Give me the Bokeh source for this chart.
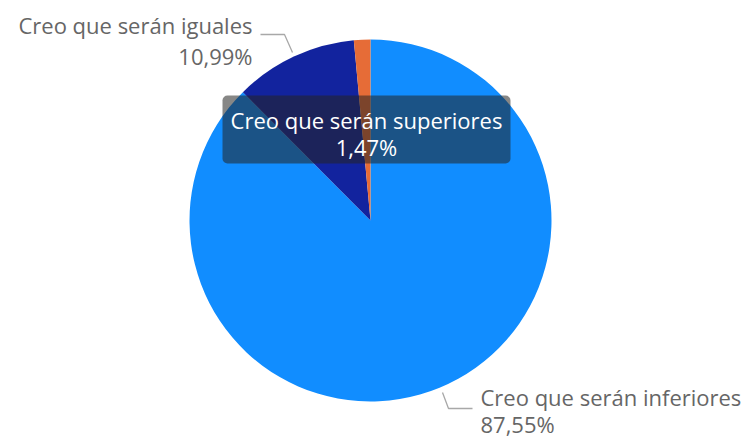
import math
from bokeh.plotting import figure
from bokeh.models import Range1d, BoxAnnotation, ColumnDataSource
from bokeh.core.properties import value
from bokeh.embed import file_html
from bokeh.resources import INLINE

categories = ["Creo que serán inferiores", "Creo que serán iguales", "Creo que serán superiores"]
values = [87.55, 10.99, 1.47]
colors = ["#118DFF", "#12239E", "#E66C37"]

W, H = 744, 439
TEXT_DY = 8  # compensation for baseline rendering
def px(x):
    return x
def py(y):
    return H - y
def ty(y):
    return H - (y - TEXT_DY)

p = figure(width=W, height=H, output_backend="svg", toolbar_location=None,
           x_range=Range1d(0, W), y_range=Range1d(0, H), min_border=0)
p.axis.visible = False
p.grid.visible = False
p.outline_line_color = None
p.background_fill_color = "white"

cx, cy, r = px(370), py(220), 181
total = sum(values)
starts, ends = [], []
c = 0.0
for v in values:
    starts.append(math.pi / 2 - 2 * math.pi * c / total)
    c += v
    ends.append(math.pi / 2 - 2 * math.pi * c / total)

src = ColumnDataSource(dict(start=starts, end=ends, color=colors))
p.wedge(x=cx, y=cy, radius=r, start_angle="start", end_angle="end", direction="clock",
        fill_color="color", line_color=None, source=src)

def fmt(v):
    return f"{v:.2f}".replace(".", ",") + "%"

font = value("Open Sans")
lab_color = "#666666"
fs = "22px"

# leader lines
p.line(x=[px(260), px(284), px(292)], y=[py(34), py(34), py(52)], line_color="#A8A8A8", line_width=1.3)
p.line(x=[px(442), px(448), px(472)], y=[py(392), py(408), py(408)], line_color="#A8A8A8", line_width=1.3)

# labels
p.text(x=[px(252), px(252)], y=[ty(32), ty(63)], text=[categories[1], fmt(values[1])],
       text_align="right", text_baseline="alphabetic", text_font=font,
       text_font_size=fs, text_color=lab_color)
p.text(x=[px(480), px(480)], y=[ty(404), ty(431)], text=[categories[0], fmt(values[0])],
       text_align="left", text_baseline="alphabetic", text_font=font,
       text_font_size=fs, text_color=lab_color)

# tooltip
box = BoxAnnotation(left=px(222), right=px(510), top=py(95), bottom=py(163),
                    fill_color="#252423", fill_alpha=0.55, line_color=None, border_radius=5,
                    level="annotation")
p.add_layout(box)
p.text(x=[px(366), px(366)], y=[ty(127), ty(154)], text=[categories[2], fmt(values[2])],
       text_align="center", text_baseline="alphabetic", text_font=font,
       text_font_size=fs, text_color="white", level="overlay")

open("out.html", "w").write(file_html(p, INLINE))
